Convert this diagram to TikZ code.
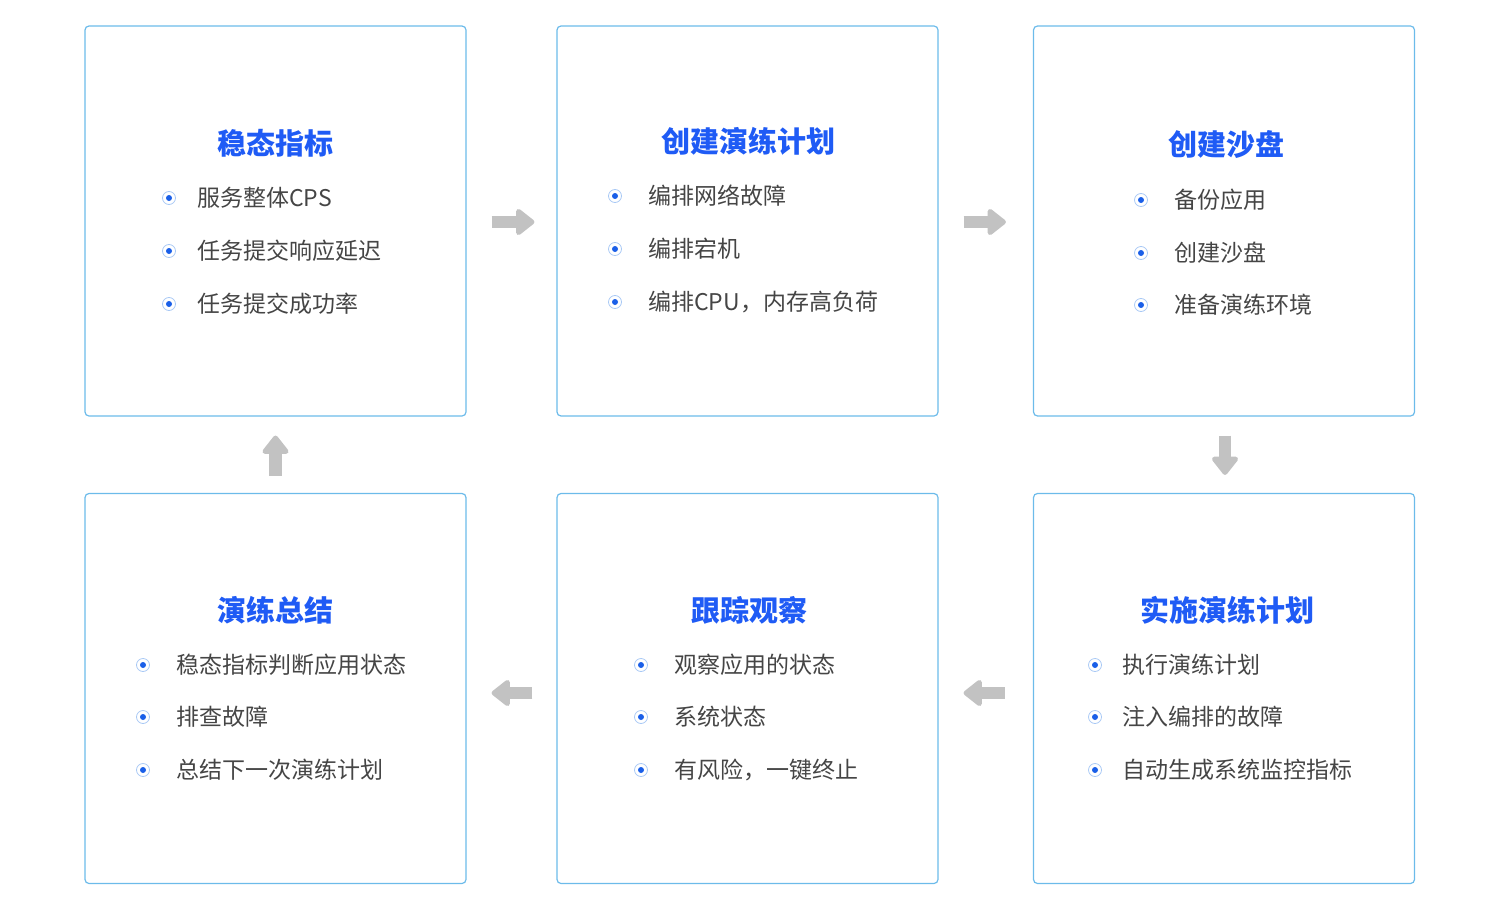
\documentclass[tikz,border=0pt]{standalone}
\usepackage{fontspec}
\setmainfont{Noto Sans CJK SC}
\usetikzlibrary{arrows.meta}

\definecolor{framecol}{HTML}{6CBBEA}
\definecolor{titlecol}{HTML}{1F5BF5}
\definecolor{dotcol}{HTML}{1A5FE8}
\definecolor{ringcol}{HTML}{A9C9F5}
\definecolor{textcol}{HTML}{454545}
\definecolor{arrowcol}{HTML}{C2C2C2}

\tikzset{
	stage/.style={draw=framecol, line width=1.2pt, rounded corners=4pt, minimum width=381pt, minimum height=390pt, inner sep=0pt},
	stagetitle/.style={font=\fontsize{29}{34}\selectfont\bfseries, text=titlecol, inner sep=0pt},
	item/.style={anchor=west, font=\fontsize{23}{28}\selectfont, text=textcol, inner sep=0pt},
	flow/.style={arrowcol, line width=12.5pt, -{Triangle[length=20pt,width=30pt,round]}},
}

\begin{document}
\begin{tikzpicture}[x=1pt,y=-1pt]

		\useasboundingbox (0,0) rectangle (1500,910);

		\node[stage] (s1) at (275.5,221) {};
		\node[stage] (s2) at (747.5,221) {};
		\node[stage] (s3) at (1224,221) {};
		\node[stage] (s4) at (275.5,688.5) {};
		\node[stage] (s5) at (747.5,688.5) {};
		\node[stage] (s6) at (1224,688.5) {};

		\node[stagetitle] (t1) at (275,143) {稳态指标};
		\node[stagetitle] (t2) at (748,141) {创建演练计划};
		\node[stagetitle] (t3) at (1226,144) {创建沙盘};
		\node[stagetitle] (t4) at (275,610) {演练总结};
		\node[stagetitle] (t5) at (749,610) {跟踪观察};
		\node[stagetitle] (t6) at (1227,610) {实施演练计划};

		\foreach \y/\t [count=\i] in {198/服务整体CPS, 251/任务提交响应延迟, 304/任务提交成功率}
		{
		\fill[dotcol] (169,\y) circle (3pt);
		\draw[ringcol, line width=0.8pt] (169,\y) circle (6.5pt);
		\node[item] (s1-\i) at (197,\y) {\t};
		}
		\foreach \y/\t [count=\i] in {196/编排网络故障, 249/编排宕机, 302/编排CPU，内存高负荷}
		{
		\fill[dotcol] (615,\y) circle (3pt);
		\draw[ringcol, line width=0.8pt] (615,\y) circle (6.5pt);
		\node[item] (s2-\i) at (648,\y) {\t};
		}
		\foreach \y/\t [count=\i] in {200/备份应用, 253/创建沙盘, 305/准备演练环境}
		{
		\fill[dotcol] (1141,\y) circle (3pt);
		\draw[ringcol, line width=0.8pt] (1141,\y) circle (6.5pt);
		\node[item] (s3-\i) at (1174,\y) {\t};
		}
		\foreach \y/\t [count=\i] in {665/稳态指标判断应用状态, 717/排查故障, 770/总结下一次演练计划}
		{
		\fill[dotcol] (143,\y) circle (3pt);
		\draw[ringcol, line width=0.8pt] (143,\y) circle (6.5pt);
		\node[item] (s4-\i) at (176,\y) {\t};
		}
		\foreach \y/\t [count=\i] in {665/观察应用的状态, 717/系统状态, 770/有风险，一键终止}
		{
		\fill[dotcol] (641,\y) circle (3pt);
		\draw[ringcol, line width=0.8pt] (641,\y) circle (6.5pt);
		\node[item] (s5-\i) at (674,\y) {\t};
		}
		\foreach \y/\t [count=\i] in {665/执行演练计划, 717/注入编排的故障, 770/自动生成系统监控指标}
		{
		\fill[dotcol] (1095,\y) circle (3pt);
		\draw[ringcol, line width=0.8pt] (1095,\y) circle (6.5pt);
		\node[item] (s6-\i) at (1122,\y) {\t};
		}

		\draw[flow, shorten <=25pt, shorten >=22pt] ([yshift=-1pt]s1.east) -- ([yshift=-1pt]s2.west);
		\draw[flow, shorten <=25pt, shorten >=27pt] ([yshift=-1pt]s2.east) -- ([yshift=-1pt]s3.west);
		\draw[flow, shorten <=19pt, shorten >=18pt] ([xshift=1pt]s3.south) -- ([xshift=1pt]s6.north);
		\draw[flow, shorten <=28pt, shorten >=25pt] ([yshift=-4.5pt]s6.west) -- ([yshift=-4.5pt]s5.east);
		\draw[flow, shorten <=24pt, shorten >=25pt] ([yshift=-4.5pt]s5.west) -- ([yshift=-4.5pt]s4.east);
		\draw[flow, shorten <=17pt, shorten >=19pt] (s4.north) -- (s1.south);
	\end{tikzpicture}
\end{document}
